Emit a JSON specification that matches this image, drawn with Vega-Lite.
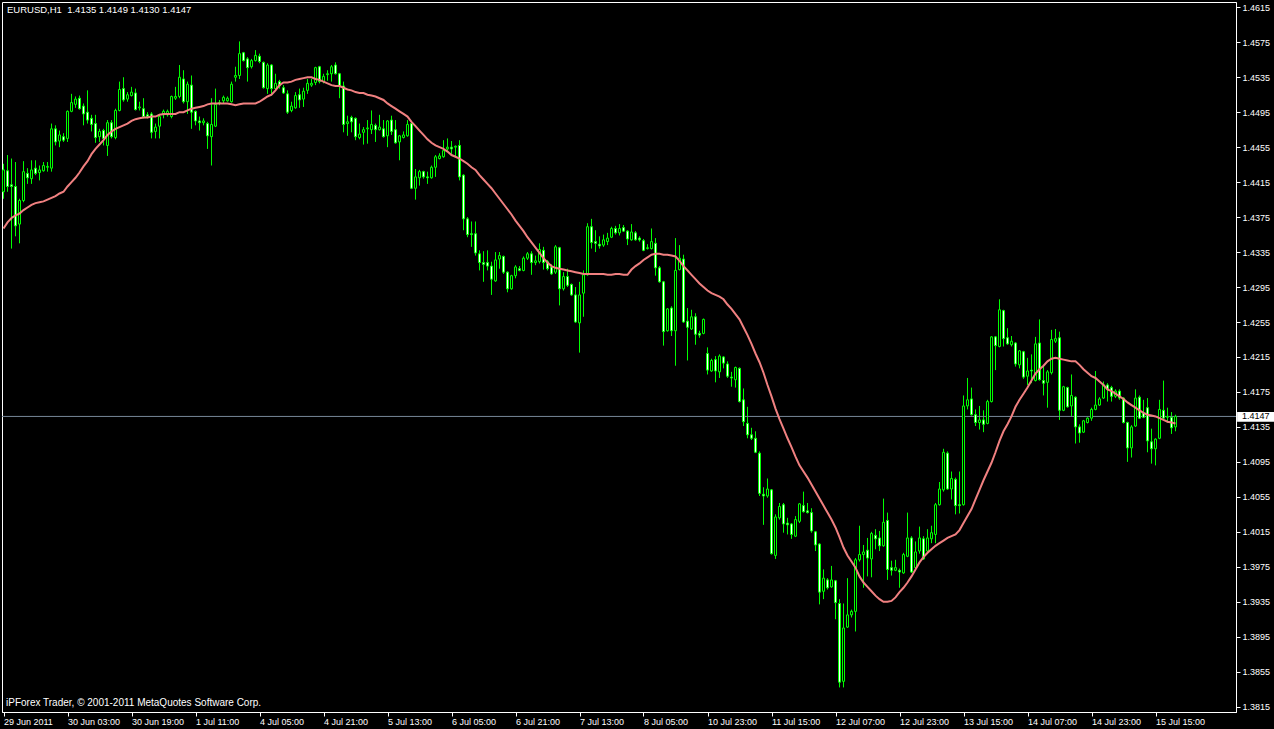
{
"$schema": "https://vega.github.io/schema/vega-lite/v6.json",
"width": 1234, "height": 710,
"autosize": {"type": "none"},
"padding": {"left": 2, "top": 2, "right": 38, "bottom": 17},
"background": "#000000",
"config": {
"view": {"stroke": "#ffffff", "strokeWidth": 1, "fill": "#000000"},
"font": "Liberation Sans",
"axis": {"grid": false, "domain": true, "domainColor": "#ffffff", "ticks": true, "tickColor": "#ffffff", "tickSize": 4, "labelColor": "#ffffff", "labelFont": "Liberation Sans", "labelFontSize": 9, "labelOverlap": false, "labelBound": false, "labelFlush": false},
"axisX": {"labelAlign": "left", "labelBaseline": "top", "labelPadding": 1},
"axisY": {"labelAlign": "left", "labelBaseline": "middle", "labelPadding": 2}
},
"datasets": {"bars": [
{"i":0,"o":1.4404,"h":1.4436,"l":1.4396,"c":1.4429,"ma":1.4362},
{"i":1,"o":1.4428,"h":1.4446,"l":1.4404,"c":1.4410,"ma":1.4369},
{"i":2,"o":1.4412,"h":1.4442,"l":1.4339,"c":1.4410,"ma":1.4374},
{"i":3,"o":1.4410,"h":1.4438,"l":1.4353,"c":1.4365,"ma":1.4377},
{"i":4,"o":1.4367,"h":1.4396,"l":1.4345,"c":1.4394,"ma":1.4379},
{"i":5,"o":1.4394,"h":1.4439,"l":1.4392,"c":1.4427,"ma":1.4383},
{"i":6,"o":1.4425,"h":1.4431,"l":1.4413,"c":1.4420,"ma":1.4386},
{"i":7,"o":1.4419,"h":1.4440,"l":1.4413,"c":1.4429,"ma":1.4389},
{"i":8,"o":1.4431,"h":1.4440,"l":1.4423,"c":1.4425,"ma":1.4391},
{"i":9,"o":1.4426,"h":1.4434,"l":1.4417,"c":1.4429,"ma":1.4392},
{"i":10,"o":1.4428,"h":1.4438,"l":1.4427,"c":1.4434,"ma":1.4393},
{"i":11,"o":1.4432,"h":1.4438,"l":1.4427,"c":1.4433,"ma":1.4395},
{"i":12,"o":1.4431,"h":1.4482,"l":1.4427,"c":1.4476,"ma":1.4397},
{"i":13,"o":1.4476,"h":1.4480,"l":1.4457,"c":1.4461,"ma":1.4399},
{"i":14,"o":1.4462,"h":1.4474,"l":1.4455,"c":1.4469,"ma":1.4402},
{"i":15,"o":1.4467,"h":1.4471,"l":1.4461,"c":1.4463,"ma":1.4404},
{"i":16,"o":1.4465,"h":1.4497,"l":1.4461,"c":1.4496,"ma":1.4410},
{"i":17,"o":1.4496,"h":1.4516,"l":1.4495,"c":1.4506,"ma":1.4415},
{"i":18,"o":1.4504,"h":1.4513,"l":1.4500,"c":1.4510,"ma":1.4420},
{"i":19,"o":1.4511,"h":1.4514,"l":1.4498,"c":1.4499,"ma":1.4426},
{"i":20,"o":1.4502,"h":1.4505,"l":1.4480,"c":1.4493,"ma":1.4433},
{"i":21,"o":1.4495,"h":1.4520,"l":1.4482,"c":1.4486,"ma":1.4439},
{"i":22,"o":1.4488,"h":1.4492,"l":1.4473,"c":1.4481,"ma":1.4447},
{"i":23,"o":1.4482,"h":1.4492,"l":1.4460,"c":1.4466,"ma":1.4453},
{"i":24,"o":1.4467,"h":1.4476,"l":1.4461,"c":1.4473,"ma":1.4458},
{"i":25,"o":1.4474,"h":1.4476,"l":1.4457,"c":1.4465,"ma":1.4463},
{"i":26,"o":1.4457,"h":1.4486,"l":1.4445,"c":1.4483,"ma":1.4469},
{"i":27,"o":1.4483,"h":1.4486,"l":1.4465,"c":1.4467,"ma":1.4473},
{"i":28,"o":1.4466,"h":1.4499,"l":1.4464,"c":1.4497,"ma":1.4476},
{"i":29,"o":1.4497,"h":1.4530,"l":1.4496,"c":1.4521,"ma":1.4478},
{"i":30,"o":1.4522,"h":1.4535,"l":1.4507,"c":1.4509,"ma":1.4480},
{"i":31,"o":1.4510,"h":1.4518,"l":1.4507,"c":1.4515,"ma":1.4482},
{"i":32,"o":1.4514,"h":1.4524,"l":1.4513,"c":1.4518,"ma":1.4485},
{"i":33,"o":1.4517,"h":1.4522,"l":1.4497,"c":1.4498,"ma":1.4487},
{"i":34,"o":1.4500,"h":1.4507,"l":1.4497,"c":1.4501,"ma":1.4488},
{"i":35,"o":1.4499,"h":1.4511,"l":1.4488,"c":1.4490,"ma":1.4489},
{"i":36,"o":1.4492,"h":1.4495,"l":1.4488,"c":1.4490,"ma":1.4489},
{"i":37,"o":1.4493,"h":1.4495,"l":1.4465,"c":1.4472,"ma":1.4490},
{"i":38,"o":1.4473,"h":1.4482,"l":1.4465,"c":1.4478,"ma":1.4490},
{"i":39,"o":1.4479,"h":1.4493,"l":1.4465,"c":1.4490,"ma":1.4492},
{"i":40,"o":1.4492,"h":1.4498,"l":1.4488,"c":1.4496,"ma":1.4493},
{"i":41,"o":1.4492,"h":1.4498,"l":1.4490,"c":1.4496,"ma":1.4493},
{"i":42,"o":1.4490,"h":1.4514,"l":1.4488,"c":1.4513,"ma":1.4493},
{"i":43,"o":1.4511,"h":1.4524,"l":1.4509,"c":1.4513,"ma":1.4493},
{"i":44,"o":1.4513,"h":1.4549,"l":1.4511,"c":1.4535,"ma":1.4495},
{"i":45,"o":1.4533,"h":1.4543,"l":1.4505,"c":1.4507,"ma":1.4495},
{"i":46,"o":1.4507,"h":1.4530,"l":1.4493,"c":1.4527,"ma":1.4497},
{"i":47,"o":1.4526,"h":1.4537,"l":1.4476,"c":1.4495,"ma":1.4499},
{"i":48,"o":1.4496,"h":1.4497,"l":1.4480,"c":1.4485,"ma":1.4500},
{"i":49,"o":1.4485,"h":1.4490,"l":1.4474,"c":1.4483,"ma":1.4501},
{"i":50,"o":1.4483,"h":1.4488,"l":1.4480,"c":1.4485,"ma":1.4502},
{"i":51,"o":1.4482,"h":1.4484,"l":1.4453,"c":1.4468,"ma":1.4504},
{"i":52,"o":1.4467,"h":1.4511,"l":1.4434,"c":1.4481,"ma":1.4505},
{"i":53,"o":1.4479,"h":1.4522,"l":1.4478,"c":1.4504,"ma":1.4505},
{"i":54,"o":1.4505,"h":1.4509,"l":1.4503,"c":1.4506,"ma":1.4505},
{"i":55,"o":1.4508,"h":1.4514,"l":1.4505,"c":1.4512,"ma":1.4505},
{"i":56,"o":1.4508,"h":1.4513,"l":1.4507,"c":1.4511,"ma":1.4505},
{"i":57,"o":1.4507,"h":1.4530,"l":1.4506,"c":1.4527,"ma":1.4504},
{"i":58,"o":1.4535,"h":1.4547,"l":1.4530,"c":1.4537,"ma":1.4503},
{"i":59,"o":1.4537,"h":1.4576,"l":1.4533,"c":1.4562,"ma":1.4504},
{"i":60,"o":1.4563,"h":1.4564,"l":1.4553,"c":1.4554,"ma":1.4505},
{"i":61,"o":1.4556,"h":1.4558,"l":1.4530,"c":1.4546,"ma":1.4505},
{"i":62,"o":1.4547,"h":1.4556,"l":1.4545,"c":1.4554,"ma":1.4505},
{"i":63,"o":1.4554,"h":1.4566,"l":1.4553,"c":1.4560,"ma":1.4505},
{"i":64,"o":1.4559,"h":1.4562,"l":1.4551,"c":1.4553,"ma":1.4507},
{"i":65,"o":1.4552,"h":1.4553,"l":1.4522,"c":1.4523,"ma":1.4510},
{"i":66,"o":1.4522,"h":1.4551,"l":1.4516,"c":1.4549,"ma":1.4513},
{"i":67,"o":1.4549,"h":1.4550,"l":1.4514,"c":1.4522,"ma":1.4515},
{"i":68,"o":1.4522,"h":1.4539,"l":1.4520,"c":1.4528,"ma":1.4520},
{"i":69,"o":1.4530,"h":1.4532,"l":1.4522,"c":1.4525,"ma":1.4526},
{"i":70,"o":1.4523,"h":1.4526,"l":1.4516,"c":1.4517,"ma":1.4529},
{"i":71,"o":1.4516,"h":1.4520,"l":1.4493,"c":1.4495,"ma":1.4529},
{"i":72,"o":1.4497,"h":1.4507,"l":1.4495,"c":1.4502,"ma":1.4530},
{"i":73,"o":1.4500,"h":1.4518,"l":1.4499,"c":1.4514,"ma":1.4532},
{"i":74,"o":1.4515,"h":1.4522,"l":1.4500,"c":1.4509,"ma":1.4533},
{"i":75,"o":1.4510,"h":1.4523,"l":1.4501,"c":1.4519,"ma":1.4534},
{"i":76,"o":1.4520,"h":1.4533,"l":1.4516,"c":1.4528,"ma":1.4535},
{"i":77,"o":1.4526,"h":1.4533,"l":1.4524,"c":1.4528,"ma":1.4535},
{"i":78,"o":1.4529,"h":1.4547,"l":1.4526,"c":1.4546,"ma":1.4533},
{"i":79,"o":1.4547,"h":1.4548,"l":1.4528,"c":1.4530,"ma":1.4532},
{"i":80,"o":1.4530,"h":1.4539,"l":1.4528,"c":1.4536,"ma":1.4530},
{"i":81,"o":1.4538,"h":1.4543,"l":1.4531,"c":1.4539,"ma":1.4528},
{"i":82,"o":1.4539,"h":1.4549,"l":1.4530,"c":1.4547,"ma":1.4526},
{"i":83,"o":1.4549,"h":1.4552,"l":1.4538,"c":1.4539,"ma":1.4525},
{"i":84,"o":1.4539,"h":1.4540,"l":1.4511,"c":1.4525,"ma":1.4525},
{"i":85,"o":1.4525,"h":1.4530,"l":1.4472,"c":1.4481,"ma":1.4523},
{"i":86,"o":1.4482,"h":1.4491,"l":1.4468,"c":1.4484,"ma":1.4521},
{"i":87,"o":1.4489,"h":1.4491,"l":1.4472,"c":1.4484,"ma":1.4520},
{"i":88,"o":1.4488,"h":1.4489,"l":1.4463,"c":1.4467,"ma":1.4518},
{"i":89,"o":1.4466,"h":1.4482,"l":1.4464,"c":1.4470,"ma":1.4517},
{"i":90,"o":1.4472,"h":1.4478,"l":1.4458,"c":1.4475,"ma":1.4517},
{"i":91,"o":1.4476,"h":1.4486,"l":1.4459,"c":1.4477,"ma":1.4515},
{"i":92,"o":1.4475,"h":1.4497,"l":1.4470,"c":1.4481,"ma":1.4514},
{"i":93,"o":1.4480,"h":1.4482,"l":1.4461,"c":1.4475,"ma":1.4513},
{"i":94,"o":1.4475,"h":1.4492,"l":1.4474,"c":1.4478,"ma":1.4511},
{"i":95,"o":1.4476,"h":1.4486,"l":1.4466,"c":1.4467,"ma":1.4509},
{"i":96,"o":1.4468,"h":1.4486,"l":1.4455,"c":1.4485,"ma":1.4505},
{"i":97,"o":1.4486,"h":1.4491,"l":1.4469,"c":1.4473,"ma":1.4502},
{"i":98,"o":1.4475,"h":1.4486,"l":1.4459,"c":1.4460,"ma":1.4499},
{"i":99,"o":1.4461,"h":1.4469,"l":1.4440,"c":1.4468,"ma":1.4496},
{"i":100,"o":1.4466,"h":1.4473,"l":1.4465,"c":1.4469,"ma":1.4493},
{"i":101,"o":1.4468,"h":1.4486,"l":1.4467,"c":1.4481,"ma":1.4490},
{"i":102,"o":1.4482,"h":1.4485,"l":1.4407,"c":1.4408,"ma":1.4484},
{"i":103,"o":1.4408,"h":1.4430,"l":1.4395,"c":1.4421,"ma":1.4479},
{"i":104,"o":1.4420,"h":1.4429,"l":1.4411,"c":1.4427,"ma":1.4474},
{"i":105,"o":1.4427,"h":1.4428,"l":1.4419,"c":1.4421,"ma":1.4469},
{"i":106,"o":1.4421,"h":1.4427,"l":1.4413,"c":1.4420,"ma":1.4464},
{"i":107,"o":1.4420,"h":1.4434,"l":1.4419,"c":1.4432,"ma":1.4460},
{"i":108,"o":1.4432,"h":1.4446,"l":1.4421,"c":1.4444,"ma":1.4457},
{"i":109,"o":1.4442,"h":1.4448,"l":1.4441,"c":1.4445,"ma":1.4455},
{"i":110,"o":1.4444,"h":1.4463,"l":1.4443,"c":1.4451,"ma":1.4453},
{"i":111,"o":1.4453,"h":1.4465,"l":1.4451,"c":1.4455,"ma":1.4450},
{"i":112,"o":1.4455,"h":1.4462,"l":1.4446,"c":1.4453,"ma":1.4446},
{"i":113,"o":1.4455,"h":1.4457,"l":1.4444,"c":1.4456,"ma":1.4444},
{"i":114,"o":1.4457,"h":1.4463,"l":1.4417,"c":1.4421,"ma":1.4442},
{"i":115,"o":1.4423,"h":1.4424,"l":1.4360,"c":1.4373,"ma":1.4439},
{"i":116,"o":1.4373,"h":1.4375,"l":1.4352,"c":1.4355,"ma":1.4436},
{"i":117,"o":1.4356,"h":1.4370,"l":1.4341,"c":1.4355,"ma":1.4432},
{"i":118,"o":1.4356,"h":1.4370,"l":1.4331,"c":1.4334,"ma":1.4429},
{"i":119,"o":1.4333,"h":1.4337,"l":1.4314,"c":1.4323,"ma":1.4423},
{"i":120,"o":1.4323,"h":1.4336,"l":1.4301,"c":1.4321,"ma":1.4418},
{"i":121,"o":1.4323,"h":1.4337,"l":1.4314,"c":1.4319,"ma":1.4413},
{"i":122,"o":1.4319,"h":1.4324,"l":1.4286,"c":1.4304,"ma":1.4408},
{"i":123,"o":1.4302,"h":1.4335,"l":1.4301,"c":1.4326,"ma":1.4402},
{"i":124,"o":1.4327,"h":1.4335,"l":1.4316,"c":1.4331,"ma":1.4396},
{"i":125,"o":1.4330,"h":1.4331,"l":1.4310,"c":1.4312,"ma":1.4390},
{"i":126,"o":1.4312,"h":1.4313,"l":1.4289,"c":1.4293,"ma":1.4384},
{"i":127,"o":1.4293,"h":1.4309,"l":1.4292,"c":1.4308,"ma":1.4378},
{"i":128,"o":1.4308,"h":1.4320,"l":1.4305,"c":1.4318,"ma":1.4371},
{"i":129,"o":1.4316,"h":1.4319,"l":1.4313,"c":1.4314,"ma":1.4365},
{"i":130,"o":1.4314,"h":1.4330,"l":1.4313,"c":1.4328,"ma":1.4359},
{"i":131,"o":1.4328,"h":1.4335,"l":1.4326,"c":1.4333,"ma":1.4352},
{"i":132,"o":1.4333,"h":1.4336,"l":1.4309,"c":1.4323,"ma":1.4346},
{"i":133,"o":1.4323,"h":1.4331,"l":1.4320,"c":1.4325,"ma":1.4340},
{"i":134,"o":1.4324,"h":1.4345,"l":1.4322,"c":1.4338,"ma":1.4334},
{"i":135,"o":1.4337,"h":1.4341,"l":1.4315,"c":1.4323,"ma":1.4328},
{"i":136,"o":1.4324,"h":1.4326,"l":1.4314,"c":1.4316,"ma":1.4323},
{"i":137,"o":1.4318,"h":1.4321,"l":1.4309,"c":1.4310,"ma":1.4319},
{"i":138,"o":1.4312,"h":1.4343,"l":1.4310,"c":1.4341,"ma":1.4317},
{"i":139,"o":1.4340,"h":1.4341,"l":1.4274,"c":1.4293,"ma":1.4316},
{"i":140,"o":1.4293,"h":1.4312,"l":1.4291,"c":1.4307,"ma":1.4315},
{"i":141,"o":1.4307,"h":1.4316,"l":1.4295,"c":1.4297,"ma":1.4314},
{"i":142,"o":1.4298,"h":1.4299,"l":1.4285,"c":1.4286,"ma":1.4313},
{"i":143,"o":1.4286,"h":1.4295,"l":1.4254,"c":1.4255,"ma":1.4312},
{"i":144,"o":1.4254,"h":1.4301,"l":1.4220,"c":1.4286,"ma":1.4311},
{"i":145,"o":1.4288,"h":1.4314,"l":1.4261,"c":1.4309,"ma":1.4310},
{"i":146,"o":1.4309,"h":1.4368,"l":1.4308,"c":1.4364,"ma":1.4310},
{"i":147,"o":1.4364,"h":1.4373,"l":1.4339,"c":1.4346,"ma":1.4310},
{"i":148,"o":1.4347,"h":1.4360,"l":1.4335,"c":1.4345,"ma":1.4310},
{"i":149,"o":1.4344,"h":1.4353,"l":1.4339,"c":1.4342,"ma":1.4310},
{"i":150,"o":1.4343,"h":1.4355,"l":1.4341,"c":1.4349,"ma":1.4310},
{"i":151,"o":1.4347,"h":1.4357,"l":1.4343,"c":1.4351,"ma":1.4309},
{"i":152,"o":1.4352,"h":1.4364,"l":1.4351,"c":1.4362,"ma":1.4309},
{"i":153,"o":1.4362,"h":1.4365,"l":1.4355,"c":1.4357,"ma":1.4310},
{"i":154,"o":1.4357,"h":1.4367,"l":1.4354,"c":1.4362,"ma":1.4310},
{"i":155,"o":1.4363,"h":1.4366,"l":1.4358,"c":1.4359,"ma":1.4309},
{"i":156,"o":1.4359,"h":1.4360,"l":1.4343,"c":1.4350,"ma":1.4309},
{"i":157,"o":1.4349,"h":1.4367,"l":1.4348,"c":1.4358,"ma":1.4315},
{"i":158,"o":1.4357,"h":1.4359,"l":1.4348,"c":1.4349,"ma":1.4319},
{"i":159,"o":1.4351,"h":1.4353,"l":1.4347,"c":1.4349,"ma":1.4322},
{"i":160,"o":1.4348,"h":1.4350,"l":1.4336,"c":1.4337,"ma":1.4326},
{"i":161,"o":1.4339,"h":1.4344,"l":1.4338,"c":1.4340,"ma":1.4329},
{"i":162,"o":1.4339,"h":1.4362,"l":1.4338,"c":1.4347,"ma":1.4332},
{"i":163,"o":1.4345,"h":1.4351,"l":1.4308,"c":1.4317,"ma":1.4333},
{"i":164,"o":1.4317,"h":1.4319,"l":1.4300,"c":1.4301,"ma":1.4333},
{"i":165,"o":1.4301,"h":1.4302,"l":1.4228,"c":1.4244,"ma":1.4332},
{"i":166,"o":1.4245,"h":1.4271,"l":1.4244,"c":1.4270,"ma":1.4332},
{"i":167,"o":1.4271,"h":1.4273,"l":1.4239,"c":1.4245,"ma":1.4331},
{"i":168,"o":1.4245,"h":1.4351,"l":1.4205,"c":1.4314,"ma":1.4330},
{"i":169,"o":1.4315,"h":1.4343,"l":1.4314,"c":1.4328,"ma":1.4325},
{"i":170,"o":1.4327,"h":1.4332,"l":1.4254,"c":1.4255,"ma":1.4319},
{"i":171,"o":1.4256,"h":1.4271,"l":1.4211,"c":1.4249,"ma":1.4314},
{"i":172,"o":1.4247,"h":1.4269,"l":1.4246,"c":1.4261,"ma":1.4309},
{"i":173,"o":1.4261,"h":1.4265,"l":1.4229,"c":1.4241,"ma":1.4304},
{"i":174,"o":1.4242,"h":1.4245,"l":1.4237,"c":1.4240,"ma":1.4299},
{"i":175,"o":1.4242,"h":1.4259,"l":1.4241,"c":1.4258,"ma":1.4295},
{"i":176,"o":1.4219,"h":1.4226,"l":1.4195,"c":1.4200,"ma":1.4291},
{"i":177,"o":1.4199,"h":1.4213,"l":1.4198,"c":1.4211,"ma":1.4288},
{"i":178,"o":1.4212,"h":1.4216,"l":1.4186,"c":1.4199,"ma":1.4286},
{"i":179,"o":1.4198,"h":1.4218,"l":1.4191,"c":1.4216,"ma":1.4284},
{"i":180,"o":1.4215,"h":1.4216,"l":1.4202,"c":1.4208,"ma":1.4281},
{"i":181,"o":1.4207,"h":1.4210,"l":1.4191,"c":1.4193,"ma":1.4275},
{"i":182,"o":1.4192,"h":1.4198,"l":1.4181,"c":1.4191,"ma":1.4270},
{"i":183,"o":1.4189,"h":1.4204,"l":1.4180,"c":1.4203,"ma":1.4264},
{"i":184,"o":1.4202,"h":1.4203,"l":1.4163,"c":1.4164,"ma":1.4258},
{"i":185,"o":1.4166,"h":1.4179,"l":1.4136,"c":1.4141,"ma":1.4249},
{"i":186,"o":1.4139,"h":1.4158,"l":1.4122,"c":1.4126,"ma":1.4240},
{"i":187,"o":1.4126,"h":1.4134,"l":1.4120,"c":1.4122,"ma":1.4230},
{"i":188,"o":1.4122,"h":1.4130,"l":1.4105,"c":1.4106,"ma":1.4219},
{"i":189,"o":1.4105,"h":1.4107,"l":1.4056,"c":1.4059,"ma":1.4209},
{"i":190,"o":1.4058,"h":1.4066,"l":1.4023,"c":1.4056,"ma":1.4197},
{"i":191,"o":1.4056,"h":1.4076,"l":1.4054,"c":1.4064,"ma":1.4183},
{"i":192,"o":1.4063,"h":1.4064,"l":1.3989,"c":1.3990,"ma":1.4170},
{"i":193,"o":1.3988,"h":1.4035,"l":1.3984,"c":1.4032,"ma":1.4156},
{"i":194,"o":1.4031,"h":1.4048,"l":1.4029,"c":1.4044,"ma":1.4144},
{"i":195,"o":1.4046,"h":1.4048,"l":1.4014,"c":1.4024,"ma":1.4133},
{"i":196,"o":1.4025,"h":1.4031,"l":1.4012,"c":1.4023,"ma":1.4122},
{"i":197,"o":1.4024,"h":1.4025,"l":1.4007,"c":1.4012,"ma":1.4112},
{"i":198,"o":1.4010,"h":1.4033,"l":1.4009,"c":1.4029,"ma":1.4101},
{"i":199,"o":1.4027,"h":1.4048,"l":1.4025,"c":1.4047,"ma":1.4091},
{"i":200,"o":1.4045,"h":1.4061,"l":1.4037,"c":1.4038,"ma":1.4084},
{"i":201,"o":1.4039,"h":1.4048,"l":1.4036,"c":1.4037,"ma":1.4077},
{"i":202,"o":1.4037,"h":1.4042,"l":1.4014,"c":1.4016,"ma":1.4069},
{"i":203,"o":1.4015,"h":1.4016,"l":1.3993,"c":1.4000,"ma":1.4061},
{"i":204,"o":1.4001,"h":1.4002,"l":1.3932,"c":1.3946,"ma":1.4053},
{"i":205,"o":1.3947,"h":1.3972,"l":1.3938,"c":1.3962,"ma":1.4045},
{"i":206,"o":1.3960,"h":1.3962,"l":1.3949,"c":1.3951,"ma":1.4037},
{"i":207,"o":1.3952,"h":1.3976,"l":1.3951,"c":1.3960,"ma":1.4029},
{"i":208,"o":1.3959,"h":1.3960,"l":1.3915,"c":1.3934,"ma":1.4020},
{"i":209,"o":1.3933,"h":1.3938,"l":1.3837,"c":1.3843,"ma":1.4009},
{"i":210,"o":1.3844,"h":1.3933,"l":1.3837,"c":1.3905,"ma":1.3997},
{"i":211,"o":1.3906,"h":1.3962,"l":1.3905,"c":1.3920,"ma":1.3988},
{"i":212,"o":1.3920,"h":1.3926,"l":1.3917,"c":1.3924,"ma":1.3981},
{"i":213,"o":1.3924,"h":1.3985,"l":1.3901,"c":1.3983,"ma":1.3974},
{"i":214,"o":1.3983,"h":1.4022,"l":1.3981,"c":1.3989,"ma":1.3964},
{"i":215,"o":1.3989,"h":1.4000,"l":1.3951,"c":1.3992,"ma":1.3957},
{"i":216,"o":1.3994,"h":1.4008,"l":1.3964,"c":1.3985,"ma":1.3952},
{"i":217,"o":1.3984,"h":1.4015,"l":1.3963,"c":1.4013,"ma":1.3947},
{"i":218,"o":1.4011,"h":1.4018,"l":1.3995,"c":1.4007,"ma":1.3942},
{"i":219,"o":1.4008,"h":1.4016,"l":1.3993,"c":1.3999,"ma":1.3938},
{"i":220,"o":1.3999,"h":1.4053,"l":1.3998,"c":1.4026,"ma":1.3935},
{"i":221,"o":1.4028,"h":1.4037,"l":1.3960,"c":1.3972,"ma":1.3935},
{"i":222,"o":1.3974,"h":1.3982,"l":1.3965,"c":1.3971,"ma":1.3936},
{"i":223,"o":1.3971,"h":1.3983,"l":1.3970,"c":1.3974,"ma":1.3940},
{"i":224,"o":1.3971,"h":1.3973,"l":1.3951,"c":1.3969,"ma":1.3946},
{"i":225,"o":1.3968,"h":1.3991,"l":1.3967,"c":1.3989,"ma":1.3951},
{"i":226,"o":1.3987,"h":1.4037,"l":1.3986,"c":1.4008,"ma":1.3957},
{"i":227,"o":1.4008,"h":1.4010,"l":1.3968,"c":1.3969,"ma":1.3964},
{"i":228,"o":1.3974,"h":1.4004,"l":1.3972,"c":1.3992,"ma":1.3972},
{"i":229,"o":1.3993,"h":1.4021,"l":1.3990,"c":1.4008,"ma":1.3980},
{"i":230,"o":1.4007,"h":1.4010,"l":1.3983,"c":1.3984,"ma":1.3986},
{"i":231,"o":1.3993,"h":1.4018,"l":1.3991,"c":1.4008,"ma":1.3991},
{"i":232,"o":1.4007,"h":1.4022,"l":1.4002,"c":1.4014,"ma":1.3995},
{"i":233,"o":1.4012,"h":1.4048,"l":1.4002,"c":1.4046,"ma":1.3999},
{"i":234,"o":1.4046,"h":1.4072,"l":1.4045,"c":1.4064,"ma":1.4002},
{"i":235,"o":1.4063,"h":1.4110,"l":1.4061,"c":1.4106,"ma":1.4005},
{"i":236,"o":1.4105,"h":1.4107,"l":1.4063,"c":1.4064,"ma":1.4008},
{"i":237,"o":1.4064,"h":1.4084,"l":1.4052,"c":1.4076,"ma":1.4010},
{"i":238,"o":1.4075,"h":1.4077,"l":1.4035,"c":1.4045,"ma":1.4012},
{"i":239,"o":1.4046,"h":1.4084,"l":1.4036,"c":1.4045,"ma":1.4017},
{"i":240,"o":1.4046,"h":1.4171,"l":1.4045,"c":1.4159,"ma":1.4025},
{"i":241,"o":1.4159,"h":1.4191,"l":1.4155,"c":1.4166,"ma":1.4033},
{"i":242,"o":1.4167,"h":1.4180,"l":1.4148,"c":1.4149,"ma":1.4041},
{"i":243,"o":1.4149,"h":1.4155,"l":1.4136,"c":1.4140,"ma":1.4052},
{"i":244,"o":1.4140,"h":1.4159,"l":1.4132,"c":1.4143,"ma":1.4063},
{"i":245,"o":1.4143,"h":1.4154,"l":1.4129,"c":1.4138,"ma":1.4074},
{"i":246,"o":1.4139,"h":1.4166,"l":1.4138,"c":1.4164,"ma":1.4084},
{"i":247,"o":1.4164,"h":1.4239,"l":1.4163,"c":1.4238,"ma":1.4094},
{"i":248,"o":1.4238,"h":1.4239,"l":1.4200,"c":1.4228,"ma":1.4106},
{"i":249,"o":1.4227,"h":1.4281,"l":1.4226,"c":1.4269,"ma":1.4119},
{"i":250,"o":1.4268,"h":1.4269,"l":1.4227,"c":1.4236,"ma":1.4130},
{"i":251,"o":1.4237,"h":1.4248,"l":1.4229,"c":1.4230,"ma":1.4138},
{"i":252,"o":1.4229,"h":1.4239,"l":1.4227,"c":1.4233,"ma":1.4147},
{"i":253,"o":1.4231,"h":1.4232,"l":1.4204,"c":1.4207,"ma":1.4158},
{"i":254,"o":1.4206,"h":1.4223,"l":1.4202,"c":1.4222,"ma":1.4166},
{"i":255,"o":1.4221,"h":1.4222,"l":1.4190,"c":1.4192,"ma":1.4173},
{"i":256,"o":1.4193,"h":1.4214,"l":1.4183,"c":1.4199,"ma":1.4180},
{"i":257,"o":1.4200,"h":1.4218,"l":1.4185,"c":1.4199,"ma":1.4188},
{"i":258,"o":1.4188,"h":1.4238,"l":1.4187,"c":1.4230,"ma":1.4196},
{"i":259,"o":1.4231,"h":1.4258,"l":1.4188,"c":1.4189,"ma":1.4201},
{"i":260,"o":1.4188,"h":1.4204,"l":1.4171,"c":1.4185,"ma":1.4205},
{"i":261,"o":1.4186,"h":1.4200,"l":1.4157,"c":1.4198,"ma":1.4210},
{"i":262,"o":1.4197,"h":1.4246,"l":1.4195,"c":1.4235,"ma":1.4213},
{"i":263,"o":1.4233,"h":1.4247,"l":1.4231,"c":1.4236,"ma":1.4214},
{"i":264,"o":1.4237,"h":1.4244,"l":1.4143,"c":1.4154,"ma":1.4213},
{"i":265,"o":1.4154,"h":1.4182,"l":1.4153,"c":1.4181,"ma":1.4212},
{"i":266,"o":1.4180,"h":1.4181,"l":1.4157,"c":1.4158,"ma":1.4211},
{"i":267,"o":1.4159,"h":1.4195,"l":1.4147,"c":1.4171,"ma":1.4210},
{"i":268,"o":1.4169,"h":1.4170,"l":1.4116,"c":1.4135,"ma":1.4210},
{"i":269,"o":1.4135,"h":1.4138,"l":1.4117,"c":1.4128,"ma":1.4206},
{"i":270,"o":1.4129,"h":1.4143,"l":1.4128,"c":1.4142,"ma":1.4201},
{"i":271,"o":1.4140,"h":1.4146,"l":1.4139,"c":1.4145,"ma":1.4197},
{"i":272,"o":1.4145,"h":1.4157,"l":1.4142,"c":1.4155,"ma":1.4193},
{"i":273,"o":1.4155,"h":1.4199,"l":1.4154,"c":1.4160,"ma":1.4191},
{"i":274,"o":1.4160,"h":1.4169,"l":1.4159,"c":1.4167,"ma":1.4187},
{"i":275,"o":1.4168,"h":1.4187,"l":1.4167,"c":1.4183,"ma":1.4183},
{"i":276,"o":1.4183,"h":1.4185,"l":1.4164,"c":1.4178,"ma":1.4178},
{"i":277,"o":1.4180,"h":1.4182,"l":1.4164,"c":1.4170,"ma":1.4176},
{"i":278,"o":1.4170,"h":1.4178,"l":1.4168,"c":1.4176,"ma":1.4173},
{"i":279,"o":1.4176,"h":1.4178,"l":1.4166,"c":1.4168,"ma":1.4170},
{"i":280,"o":1.4168,"h":1.4169,"l":1.4139,"c":1.4140,"ma":1.4167},
{"i":281,"o":1.4140,"h":1.4141,"l":1.4095,"c":1.4111,"ma":1.4163},
{"i":282,"o":1.4111,"h":1.4137,"l":1.4100,"c":1.4135,"ma":1.4160},
{"i":283,"o":1.4136,"h":1.4178,"l":1.4135,"c":1.4168,"ma":1.4157},
{"i":284,"o":1.4169,"h":1.4171,"l":1.4144,"c":1.4145,"ma":1.4154},
{"i":285,"o":1.4151,"h":1.4166,"l":1.4145,"c":1.4146,"ma":1.4151},
{"i":286,"o":1.4157,"h":1.4168,"l":1.4106,"c":1.4119,"ma":1.4149},
{"i":287,"o":1.4118,"h":1.4133,"l":1.4093,"c":1.4110,"ma":1.4148},
{"i":288,"o":1.4110,"h":1.4122,"l":1.4091,"c":1.4121,"ma":1.4147},
{"i":289,"o":1.4122,"h":1.4166,"l":1.4121,"c":1.4155,"ma":1.4145},
{"i":290,"o":1.4154,"h":1.4188,"l":1.4144,"c":1.4145,"ma":1.4143},
{"i":291,"o":1.4146,"h":1.4157,"l":1.4140,"c":1.4147,"ma":1.4141},
{"i":292,"o":1.4146,"h":1.4152,"l":1.4127,"c":1.4134,"ma":1.4140},
{"i":293,"o":1.4135,"h":1.4149,"l":1.4130,"c":1.4147,"ma":1.4139}
]},
"layer": [
{
"data": {"name": "bars"},
"mark": {"type": "rule", "color": "#00ff00", "strokeWidth": 1},
"encoding": {
"x": {"field": "i", "type": "quantitative", "scale": {"domain": [-0.375, 308.125], "nice": false, "zero": false, "padding": 0},
"axis": {"orient": "bottom", "title": null, "labelOverlap": false, "tickCount": 40, "values": [0,16,32,48,64,80,96,112,128,144,160,176,192,208,224,240,256,272,288], "labelExpr": "['29 Jun 2011','30 Jun 03:00','30 Jun 19:00','1 Jul 11:00','4 Jul 05:00','4 Jul 21:00','5 Jul 13:00','6 Jul 05:00','6 Jul 21:00','7 Jul 13:00','8 Jul 05:00','10 Jul 23:00','11 Jul 15:00','12 Jul 07:00','12 Jul 23:00','13 Jul 15:00','14 Jul 07:00','14 Jul 23:00','15 Jul 15:00'][round(datum.value/16)]"}},
"y": {"field": "l", "type": "quantitative", "scale": {"domain": [1.38089, 1.462106], "nice": false, "zero": false, "padding": 0},
"axis": {"orient": "right", "title": null, "labelOverlap": false, "tickCount": 40, "values": [1.3815,1.3855,1.3895,1.3935,1.3975,1.4015,1.4055,1.4095,1.4135,1.4175,1.4215,1.4255,1.4295,1.4335,1.4375,1.4415,1.4455,1.4495,1.4535,1.4575,1.4615], "format": ".4f"}},
"y2": {"field": "h"}
}
},
{
"data": {"values": [{"p": 1.4147}]},
"mark": {"type": "rule", "color": "#778899", "strokeWidth": 1},
"encoding": {
"y": {"field": "p", "type": "quantitative", "axis": {"orient": "right", "title": null, "labelOverlap": false, "tickCount": 40}}
}
},
{
"data": {"name": "bars"},
"mark": {"type": "bar", "width": 2, "stroke": "#00ff00", "strokeWidth": 1},
"encoding": {
"x": {"field": "i", "type": "quantitative", "axis": {"title": null, "labelOverlap": false, "tickCount": 40}},
"y": {"field": "o", "type": "quantitative", "axis": {"orient": "right", "title": null, "labelOverlap": false, "tickCount": 40}},
"y2": {"field": "c"},
"fill": {"condition": {"test": "datum.c >= datum.o", "value": "#000000"}, "value": "#ffffff"}
}
},
{
"data": {"name": "bars"},
"mark": {"type": "line", "color": "#f08080", "strokeWidth": 2},
"encoding": {
"x": {"field": "i", "type": "quantitative", "axis": {"title": null, "labelOverlap": false, "tickCount": 40}},
"y": {"field": "ma", "type": "quantitative", "axis": {"orient": "right", "title": null, "labelOverlap": false, "tickCount": 40}}
}
},
{
"data": {"values": [{"a": 1}]},
"mark": {"type": "rect", "fill": "#ffffff"},
"encoding": {
"x": {"datum": 308.4, "type": "quantitative", "axis": {"title": null, "labelOverlap": false, "tickCount": 40}},
"x2": {"datum": 318},
"y": {"datum": 1.4152, "type": "quantitative", "axis": {"orient": "right", "title": null, "labelOverlap": false, "tickCount": 40}},
"y2": {"datum": 1.4141}
}
},
{
"data": {"values": [{"t": "1.4147"}]},
"mark": {"type": "text", "color": "#000000", "font": "Liberation Sans", "fontSize": 9, "align": "left", "baseline": "middle", "dx": 5},
"encoding": {
"x": {"datum": 308.4, "type": "quantitative", "axis": {"title": null, "labelOverlap": false, "tickCount": 40}},
"y": {"datum": 1.4147, "type": "quantitative", "axis": {"orient": "right", "title": null, "labelOverlap": false, "tickCount": 40}},
"text": {"field": "t"}
}
},
{
"data": {"values": [{"t": "EURUSD,H1\u00a0\u00a01.4135 1.4149 1.4130 1.4147"}]},
"mark": {"type": "text", "color": "#ffffff", "font": "Liberation Sans", "fontSize": 9.5, "align": "left", "baseline": "middle", "dx": 5},
"encoding": {
"x": {"datum": -0.375, "type": "quantitative", "axis": {"title": null, "labelOverlap": false, "tickCount": 40}},
"y": {"datum": 1.4612, "type": "quantitative", "axis": {"orient": "right", "title": null, "labelOverlap": false, "tickCount": 40}},
"text": {"field": "t"}
}
},
{
"data": {"values": [{"t": "iPForex Trader, © 2001-2011 MetaQuotes Software Corp."}]},
"mark": {"type": "text", "color": "#ffffff", "font": "Liberation Sans", "fontSize": 10, "align": "left", "baseline": "middle", "dx": 4},
"encoding": {
"x": {"datum": -0.375, "type": "quantitative", "axis": {"title": null, "labelOverlap": false, "tickCount": 40}},
"y": {"datum": 1.3819, "type": "quantitative", "axis": {"orient": "right", "title": null, "labelOverlap": false, "tickCount": 40}},
"text": {"field": "t"}
}
}
]
}
